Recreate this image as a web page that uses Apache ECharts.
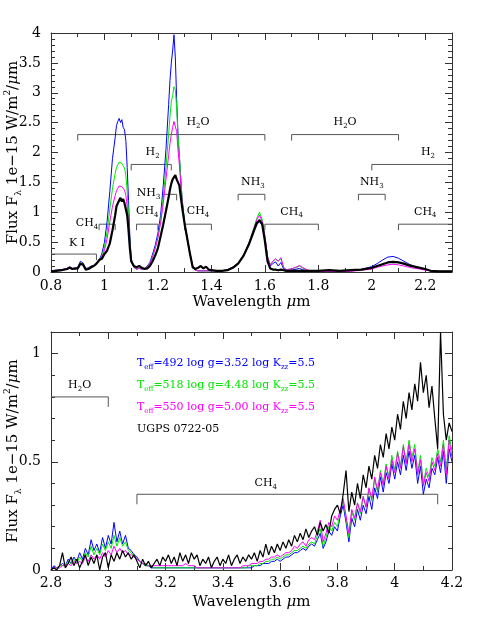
<!DOCTYPE html>
<html>
<head>
<meta charset="utf-8">
<script src="https://cdn.jsdelivr.net/npm/echarts@6/dist/echarts.min.js"></script>
<style>
html, body { margin: 0; padding: 0; background: #fff; }
#chart { width: 477px; height: 635px; }
</style>
</head>
<body>
<div id="chart"></div>
<script>
// ---- top panel: 0.8 - 2.3 micron ----
var nirWave = [
  0.80,0.82,0.84,0.86,0.87,0.88,0.90,0.91,0.92,0.93,
  0.94,0.95,0.96,0.97,0.98,0.99,1.00,1.01,1.02,1.03,
  1.04,1.045,1.05,1.055,1.06,1.065,1.07,1.075,1.08,1.085,
  1.09,1.095,1.10,1.11,1.12,1.13,1.14,1.15,1.16,1.17,
  1.18,1.19,1.20,1.21,1.22,1.23,1.24,1.245,1.25,1.255,
  1.26,1.265,1.27,1.275,1.28,1.29,1.30,1.31,1.32,1.33,
  1.34,1.35,1.36,1.37,1.38,1.39,1.40,1.42,1.44,1.46,
  1.48,1.50,1.52,1.54,1.56,1.57,1.58,1.59,1.60,1.61,
  1.62,1.63,1.64,1.65,1.66,1.67,1.68,1.70,1.72,1.73,
  1.74,1.76,1.78,1.80,1.84,1.88,1.92,1.96,2.00,2.02,
  2.04,2.06,2.08,2.10,2.12,2.14,2.16,2.18,2.20,2.22,
  2.25,2.30
];
var nirT492 = [
  0.02,0.03,0.04,0.06,0.09,0.06,0.08,0.18,0.15,0.06,
  0.07,0.10,0.11,0.14,0.20,0.30,0.50,0.85,1.35,1.90,
  2.25,2.45,2.52,2.57,2.50,2.55,2.42,2.38,2.20,1.75,
  1.20,0.60,0.22,0.08,0.05,0.06,0.05,0.06,0.10,0.16,
  0.30,0.45,0.65,0.95,1.45,2.05,2.80,3.20,3.50,3.70,
  3.97,3.60,2.90,2.30,1.95,1.25,0.80,0.55,0.30,0.10,
  0.03,0.02,0.02,0.02,0.02,0.02,0.02,0.02,0.02,0.04,
  0.08,0.15,0.27,0.45,0.70,0.80,0.84,0.78,0.55,0.22,
  0.10,0.14,0.17,0.10,0.16,0.05,0.03,0.03,0.05,0.06,
  0.04,0.02,0.02,0.01,0.01,0.01,0.02,0.04,0.09,0.14,
  0.20,0.25,0.26,0.23,0.18,0.13,0.09,0.06,0.04,0.02,
  0.01,0.01
];
var nirT518 = [
  0.02,0.03,0.04,0.06,0.08,0.06,0.07,0.16,0.13,0.05,
  0.06,0.09,0.10,0.13,0.18,0.26,0.42,0.68,1.05,1.40,
  1.65,1.75,1.80,1.84,1.83,1.82,1.78,1.74,1.62,1.35,
  0.95,0.50,0.20,0.08,0.05,0.06,0.05,0.06,0.09,0.14,
  0.26,0.40,0.58,0.85,1.25,1.75,2.30,2.60,2.85,2.95,
  3.10,3.05,2.75,2.30,1.95,1.25,0.82,0.58,0.32,0.10,
  0.03,0.02,0.02,0.02,0.02,0.02,0.02,0.02,0.02,0.04,
  0.08,0.15,0.28,0.48,0.76,0.90,1.00,0.88,0.60,0.26,
  0.12,0.18,0.22,0.18,0.23,0.07,0.04,0.05,0.08,0.10,
  0.07,0.03,0.02,0.01,0.01,0.01,0.02,0.04,0.07,0.10,
  0.13,0.16,0.17,0.16,0.13,0.10,0.08,0.06,0.04,0.02,
  0.01,0.01
];
var nirT550 = [
  0.02,0.03,0.04,0.06,0.08,0.06,0.07,0.15,0.13,0.05,
  0.06,0.09,0.10,0.13,0.18,0.25,0.36,0.56,0.84,1.10,
  1.28,1.36,1.40,1.44,1.44,1.43,1.40,1.37,1.28,1.10,
  0.80,0.45,0.18,0.08,0.05,0.06,0.05,0.06,0.09,0.14,
  0.26,0.40,0.58,0.82,1.15,1.55,1.95,2.15,2.30,2.42,
  2.52,2.50,2.35,2.05,1.80,1.20,0.80,0.55,0.30,0.10,
  0.03,0.02,0.02,0.02,0.02,0.02,0.02,0.02,0.02,0.04,
  0.08,0.15,0.28,0.48,0.74,0.88,0.95,0.85,0.60,0.26,
  0.12,0.18,0.22,0.18,0.24,0.08,0.04,0.05,0.09,0.11,
  0.08,0.03,0.02,0.01,0.01,0.01,0.01,0.03,0.05,0.08,
  0.10,0.12,0.13,0.12,0.10,0.08,0.06,0.05,0.03,0.02,
  0.01,0.01
];
var nirUgps = [
  0.01,0.02,0.03,0.05,0.07,0.05,0.06,0.14,0.12,0.04,
  0.05,0.08,0.10,0.14,0.20,0.22,0.30,0.36,0.48,0.70,
  0.95,1.10,1.15,1.20,1.24,1.18,1.22,1.15,1.12,0.95,
  0.70,0.40,0.18,0.10,0.08,0.10,0.07,0.05,0.06,0.10,
  0.18,0.28,0.40,0.60,0.80,1.02,1.25,1.38,1.48,1.55,
  1.58,1.62,1.55,1.50,1.45,1.10,0.80,0.55,0.30,0.08,
  0.05,0.07,0.10,0.06,0.09,0.04,0.03,0.02,0.02,0.03,
  0.07,0.14,0.27,0.46,0.70,0.82,0.87,0.80,0.52,0.18,
  0.06,0.04,0.04,0.03,0.04,0.03,0.02,0.02,0.02,0.02,
  0.02,0.02,0.02,0.02,0.03,0.02,0.03,0.04,0.07,0.10,
  0.13,0.16,0.17,0.16,0.14,0.11,0.09,0.07,0.05,0.02,
  0.01,0.01
];

// ---- bottom panel: 2.8 - 4.2 micron ----
var lWave = [
  2.80,2.81,2.82,2.83,2.84,2.85,2.86,2.87,2.88,2.89,
  2.90,2.91,2.92,2.93,2.94,2.95,2.96,2.97,2.98,2.99,
  3.00,3.01,3.02,3.03,3.04,3.05,3.06,3.07,3.08,3.09,
  3.10,3.11,3.12,3.13,3.14,3.15,3.16,3.17,3.18,3.19,
  3.20,3.21,3.22,3.23,3.24,3.25,3.26,3.27,3.28,3.29,
  3.30,3.31,3.32,3.33,3.34,3.35,3.36,3.37,3.38,3.39,
  3.40,3.41,3.42,3.43,3.44,3.45,3.46,3.47,3.48,3.49,
  3.50,3.51,3.52,3.53,3.54,3.55,3.56,3.57,3.58,3.59,
  3.60,3.61,3.62,3.63,3.64,3.65,3.66,3.67,3.68,3.69,
  3.70,3.71,3.72,3.73,3.74,3.75,3.76,3.77,3.78,3.79,
  3.80,3.81,3.82,3.83,3.84,3.85,3.86,3.87,3.88,3.89,
  3.90,3.91,3.92,3.93,3.94,3.95,3.96,3.97,3.98,3.99,
  4.00,4.01,4.02,4.03,4.04,4.05,4.06,4.07,4.08,4.09,
  4.10,4.11,4.12,4.13,4.14,4.15,4.16,4.17,4.18,4.19,
  4.20
];
var lT492 = [
  0.00,0.02,0.01,0.02,0.03,0.02,0.05,0.03,0.06,0.04,
  0.08,0.05,0.10,0.07,0.14,0.09,0.12,0.08,0.15,0.10,
  0.16,0.12,0.22,0.13,0.18,0.12,0.16,0.10,0.09,0.07,
  0.06,0.04,0.03,0.02,0.02,0.01,0.01,0.01,0.01,0.01,
  0.01,0.01,0.01,0.01,0.01,0.01,0.01,0.01,0.01,0.01,
  0.01,0.01,0.01,0.01,0.01,0.01,0.01,0.01,0.01,0.01,
  0.01,0.01,0.01,0.01,0.01,0.01,0.01,0.01,0.01,0.01,
  0.01,0.02,0.02,0.02,0.03,0.03,0.03,0.04,0.04,0.05,
  0.04,0.05,0.06,0.06,0.07,0.08,0.08,0.09,0.10,0.09,
  0.11,0.12,0.11,0.14,0.17,0.10,0.13,0.18,0.16,0.20,
  0.18,0.25,0.30,0.22,0.13,0.24,0.20,0.28,0.23,0.30,
  0.26,0.34,0.28,0.38,0.33,0.43,0.36,0.45,0.40,0.49,
  0.42,0.50,0.44,0.53,0.46,0.55,0.47,0.53,0.40,0.48,
  0.35,0.42,0.38,0.47,0.44,0.52,0.45,0.55,0.40,0.56,
  0.50
];
var lT518 = [
  0.00,0.01,0.01,0.02,0.02,0.02,0.04,0.03,0.05,0.03,
  0.06,0.04,0.08,0.06,0.11,0.07,0.10,0.07,0.12,0.09,
  0.13,0.10,0.16,0.11,0.15,0.11,0.13,0.09,0.08,0.06,
  0.05,0.04,0.03,0.02,0.02,0.02,0.01,0.01,0.01,0.01,
  0.01,0.01,0.01,0.01,0.01,0.01,0.01,0.01,0.01,0.01,
  0.01,0.01,0.01,0.01,0.01,0.01,0.01,0.01,0.01,0.01,
  0.01,0.01,0.01,0.01,0.01,0.01,0.01,0.01,0.01,0.02,
  0.02,0.02,0.02,0.03,0.03,0.04,0.04,0.05,0.05,0.06,
  0.05,0.06,0.07,0.07,0.08,0.09,0.09,0.10,0.11,0.10,
  0.12,0.13,0.12,0.16,0.19,0.11,0.15,0.20,0.18,0.22,
  0.20,0.27,0.32,0.24,0.15,0.27,0.23,0.31,0.26,0.34,
  0.29,0.37,0.32,0.42,0.36,0.46,0.40,0.49,0.43,0.53,
  0.46,0.55,0.48,0.58,0.50,0.60,0.52,0.58,0.45,0.53,
  0.40,0.47,0.43,0.52,0.48,0.56,0.50,0.60,0.46,0.62,
  0.55
];
var lT550 = [
  0.00,0.01,0.01,0.01,0.02,0.02,0.03,0.02,0.04,0.03,
  0.04,0.03,0.06,0.04,0.07,0.05,0.07,0.05,0.08,0.06,
  0.09,0.07,0.11,0.08,0.10,0.08,0.09,0.07,0.07,0.06,
  0.05,0.04,0.03,0.03,0.02,0.02,0.02,0.02,0.02,0.02,
  0.02,0.02,0.02,0.02,0.02,0.02,0.02,0.03,0.02,0.02,
  0.02,0.01,0.01,0.01,0.01,0.01,0.01,0.01,0.01,0.01,
  0.01,0.01,0.01,0.01,0.01,0.01,0.01,0.02,0.02,0.02,
  0.03,0.03,0.03,0.04,0.04,0.05,0.05,0.06,0.06,0.07,
  0.06,0.07,0.08,0.08,0.09,0.11,0.10,0.12,0.13,0.11,
  0.14,0.15,0.14,0.18,0.23,0.13,0.17,0.22,0.20,0.25,
  0.23,0.28,0.33,0.25,0.17,0.28,0.24,0.31,0.27,0.34,
  0.29,0.38,0.33,0.43,0.37,0.45,0.39,0.48,0.42,0.51,
  0.45,0.54,0.47,0.57,0.49,0.58,0.50,0.56,0.44,0.51,
  0.39,0.45,0.41,0.50,0.46,0.54,0.48,0.58,0.44,0.60,
  0.52
];
var lUgps = [
  0.00,0.01,0.00,0.02,0.08,0.01,0.03,0.06,0.02,0.05,
  0.01,0.04,0.07,0.02,0.06,0.03,0.07,0.00,0.06,0.08,
  0.01,0.07,0.04,0.08,0.05,0.09,0.06,0.08,0.05,0.07,
  0.04,0.01,0.05,0.02,0.04,0.01,0.03,0.05,0.02,0.06,
  0.04,0.07,0.03,0.06,0.02,0.08,0.04,0.07,0.03,0.08,
  0.05,0.07,0.02,0.05,0.03,0.06,0.01,0.04,0.06,0.02,
  0.05,0.03,0.07,0.02,0.05,0.07,0.03,0.06,0.04,0.07,
  0.05,0.08,0.04,0.09,0.06,0.12,0.07,0.11,0.08,0.12,
  0.09,0.13,0.10,0.14,0.11,0.16,0.13,0.17,0.14,0.19,
  0.15,0.18,0.20,0.16,0.22,0.18,0.21,0.17,0.25,0.28,
  0.30,0.26,0.35,0.46,0.27,0.36,0.30,0.40,0.33,0.44,
  0.38,0.48,0.42,0.53,0.47,0.58,0.52,0.63,0.56,0.66,
  0.60,0.72,0.65,0.78,0.70,0.82,0.74,0.86,0.78,0.96,
  0.82,0.90,0.75,0.85,0.70,0.56,1.10,0.72,0.60,0.68,
  0.64
];

// tick labels
var nirXTicks = [0.8, 1, 1.2, 1.4, 1.6, 1.8, 2, 2.2];
var nirYTicks = [0, 0.5, 1, 1.5, 2, 2.5, 3, 3.5, 4];
var lXTicks = [2.8, 3, 3.2, 3.4, 3.6, 3.8, 4, 4.2];
var lYTicks = [0, 0.5, 1];

// absorption bands: [x start, x end, level, label x, label y]
var nirBandNames = ['H2O', 'H2O', 'H2', 'H2', 'NH3', 'CH4', 'K I', 'CH4', 'CH4', 'NH3', 'CH4', 'NH3', 'CH4'];
var nirBands = [
  [0.90, 1.60, 2.3, 1.35, 2.51],
  [1.70, 2.10, 2.3, 1.90, 2.51],
  [1.10, 1.25, 1.8, 1.18, 2.00],
  [2.00, 2.30, 1.8, 2.21, 2.00],
  [1.22, 1.27, 1.3, 1.165, 1.32],
  [0.98, 1.04, 0.8, 0.935, 0.82],
  [0.80, 0.97, 0.3, 0.897, 0.49],
  [1.12, 1.20, 0.8, 1.16, 1.02],
  [1.30, 1.40, 0.8, 1.35, 1.02],
  [1.50, 1.60, 1.3, 1.555, 1.51],
  [1.60, 1.80, 0.8, 1.70, 1.01],
  [1.95, 2.05, 1.3, 2.00, 1.51],
  [2.10, 2.30, 0.8, 2.20, 1.01]
];
var lBandNames = ['H2O', 'CH4'];
var lBands = [
  [2.80, 3.00, 0.80, 2.90, 0.854],
  [3.10, 4.15, 0.35, 3.55, 0.40]
];

var modelTeff = ['492', '518', '550'];
var modelLogg = ['3.52', '4.48', '5.00'];
var modelKzz = ['5.5', '5.5', '5.5'];
var objectName = 'UGPS 0722-05';

var FONT = 'DejaVu Serif';
var BLUE = '#0000ff', GREEN = '#00e600', PINK = '#ff00ff', BLACK = '#000000';

function pairs(wave, flux) {
  return wave.map(function (w, i) { return [w, flux[i]]; });
}

// letters normal, digits as subscripts
function bandRich(name) {
  return name.replace(/([^0-9]+)/g, '{m|$1}').replace(/([0-9]+)/g, '{s|$1}');
}
var bandStyle = {
  m: { fontFamily: FONT, fontSize: 11, lineHeight: 15 },
  s: { fontFamily: FONT, fontSize: 7, lineHeight: 8, verticalAlign: 'bottom' }
};

function bracketRenderer(names, tickLen) {
  return function (params, api) {
    var cs = params.coordSys;
    var a = api.coord([api.value(0), api.value(2)]);
    var b = api.coord([api.value(1), api.value(2)]);
    var t = api.coord([api.value(3), api.value(4)]);
    var pts = [];
    if (a[0] > cs.x + 1) pts.push([a[0], a[1] + tickLen]);
    pts.push(a, b);
    if (b[0] < cs.x + cs.width - 1) pts.push([b[0], b[1] + tickLen]);
    return {
      type: 'group',
      children: [
        { type: 'polyline', shape: { points: pts }, style: { stroke: '#555', lineWidth: 1, fill: null } },
        { type: 'text', x: t[0], y: t[1],
          style: { text: bandRich(names[params.dataIndex]), rich: bandStyle, fill: '#000',
                   align: 'center', verticalAlign: 'middle' } }
      ]
    };
  };
}

var legendColors = [BLUE, GREEN, PINK, BLACK];
var legendLines = modelTeff.map(function (t, i) {
  return '{m|T}{s|eff}{m|=' + t + ' log g=' + modelLogg[i] + ' log K}{s|zz}{m|=' + modelKzz[i] + '}';
});
legendLines.push('{m|' + objectName + '}');

function legendRenderer(params, api) {
  var p = api.coord([api.value(0), api.value(1)]);
  return { type: 'text', x: p[0], y: p[1],
    style: { text: legendLines[params.dataIndex], rich: bandStyle,
             fill: legendColors[params.dataIndex], align: 'left', verticalAlign: 'middle' } };
}

// tick labels drawn as serif text at the axis positions
function tickLabelSeries(xi, yi, xTicks, yTicks, xMin, yMin, xOff) {
  var data = xTicks.map(function (v) { return [v, yMin, 0]; })
    .concat(yTicks.map(function (v) { return [xMin, v, 1]; }));
  return {
    type: 'custom', xAxisIndex: xi, yAxisIndex: yi, z: 5, silent: true, clip: false,
    data: data,
    renderItem: function (params, api) {
      var p = api.coord([api.value(0), api.value(1)]);
      var isX = api.value(2) === 0;
      return { type: 'text', x: isX ? p[0] : p[0] - 10, y: isX ? p[1] + xOff : p[1],
        style: { text: String(isX ? api.value(0) : api.value(1)), fontFamily: FONT, fontSize: 14,
                 fill: '#000', align: isX ? 'center' : 'right', verticalAlign: 'middle' } };
    }
  };
}

var nameRich = {
  m: { fontFamily: FONT, fontSize: 15, lineHeight: 20 },
  i: { fontFamily: FONT, fontSize: 15, lineHeight: 20, fontStyle: 'italic' },
  s: { fontFamily: FONT, fontSize: 9, lineHeight: 9, verticalAlign: 'bottom' },
  p: { fontFamily: FONT, fontSize: 9, lineHeight: 10, verticalAlign: 'top' }
};
function axisNameSeries(xi, yi, xMid, yMid, xMin, yMin, xOff) {
  return {
    type: 'custom', xAxisIndex: xi, yAxisIndex: yi, z: 5, silent: true, clip: false,
    data: [[xMid, yMid]],
    renderItem: function (params, api) {
      var px = api.coord([api.value(0), yMin]);
      var py = api.coord([xMin, api.value(1)]);
      return { type: 'group', children: [
        { type: 'text', x: px[0], y: px[1] + xOff,
          style: { text: '{m|Wavelength }{i|μ}{m|m}', rich: nameRich, fill: '#000',
                   align: 'center', verticalAlign: 'middle' } },
        { type: 'text', x: py[0] - 38, y: py[1], rotation: Math.PI / 2,
          style: { text: '{m|Flux F}{s|λ}{m| 1e−15 W/m}{p|2}{m|/}{i|μ}{m|m}', rich: nameRich, fill: '#000',
                   align: 'center', verticalAlign: 'middle' } }
      ] };
    }
  };
}

function xAxisCfg(grid, min, max, mirror) {
  return {
    type: 'value', gridIndex: grid, min: min, max: max, interval: 0.2,
    position: mirror ? 'top' : 'bottom',
    axisLine: { show: true, onZero: false, lineStyle: { color: '#333', width: 1 } },
    axisTick: { show: true, inside: true, length: 7, lineStyle: { color: '#333' } },
    minorTick: { show: true, splitNumber: 2, length: 4, lineStyle: { color: '#333' } },
    axisLabel: { show: false },
    splitLine: { show: false }, minorSplitLine: { show: false }
  };
}

function yAxisCfg(grid, max, mirror) {
  return {
    type: 'value', gridIndex: grid, min: 0, max: max, interval: 0.5,
    position: mirror ? 'right' : 'left',
    axisLine: { show: true, onZero: false, lineStyle: { color: '#333', width: 1 } },
    axisTick: { show: true, inside: true, length: 7, lineStyle: { color: '#333' } },
    minorTick: { show: true, splitNumber: 5, length: 4, lineStyle: { color: '#333' } },
    axisLabel: { show: false },
    splitLine: { show: false }, minorSplitLine: { show: false }
  };
}

function lineSeries(xi, yi, data, color, width) {
  return {
    type: 'line', xAxisIndex: xi, yAxisIndex: yi, data: data,
    showSymbol: false, symbol: 'none', z: 3, silent: true,
    lineStyle: { color: color, width: width }
  };
}

var chart = echarts.init(document.getElementById('chart'), null, { renderer: 'canvas' });
chart.setOption({
  backgroundColor: '#fff',
  animation: false,
  grid: [
    { left: 51, top: 33, width: 401, height: 239, outerBoundsMode: 'none', containLabel: false },
    { left: 51, top: 332, width: 401, height: 238, outerBoundsMode: 'none', containLabel: false }
  ],
  xAxis: [
    xAxisCfg(0, 0.8, 2.3, false),
    xAxisCfg(0, 0.8, 2.3, true),
    xAxisCfg(1, 2.8, 4.2, false),
    xAxisCfg(1, 2.8, 4.2, true)
  ],
  yAxis: [
    yAxisCfg(0, 4, false),
    yAxisCfg(0, 4, true),
    yAxisCfg(1, 1.1, false),
    yAxisCfg(1, 1.1, true)
  ],
  series: [
    { type: 'custom', xAxisIndex: 0, yAxisIndex: 0, z: 1, silent: true,
      renderItem: bracketRenderer(nirBandNames, 6), data: nirBands },
    lineSeries(0, 0, pairs(nirWave, nirT492), BLUE, 1),
    lineSeries(0, 0, pairs(nirWave, nirT518), GREEN, 1),
    lineSeries(0, 0, pairs(nirWave, nirT550), PINK, 1),
    lineSeries(0, 0, pairs(nirWave, nirUgps), BLACK, 2.2),
    tickLabelSeries(0, 0, nirXTicks, nirYTicks, 0.8, 0, 14.5),
    axisNameSeries(0, 0, 1.55, 2.0, 0.8, 0, 30),

    { type: 'custom', xAxisIndex: 2, yAxisIndex: 2, z: 1, silent: true,
      renderItem: bracketRenderer(lBandNames, 10), data: lBands },
    lineSeries(2, 2, pairs(lWave, lT492), BLUE, 1),
    lineSeries(2, 2, pairs(lWave, lT518), GREEN, 1),
    lineSeries(2, 2, pairs(lWave, lT550), PINK, 1),
    lineSeries(2, 2, pairs(lWave, lUgps), BLACK, 1.2),
    tickLabelSeries(2, 2, lXTicks, lYTicks, 2.8, 0, 13),
    axisNameSeries(2, 2, 3.5, 0.55, 2.8, 0, 32),
    { type: 'custom', xAxisIndex: 2, yAxisIndex: 2, z: 4, silent: true,
      renderItem: legendRenderer,
      data: [[3.1, 0.954], [3.1, 0.854], [3.1, 0.752], [3.1, 0.649]] }
  ]
});
</script>
</body>
</html>
